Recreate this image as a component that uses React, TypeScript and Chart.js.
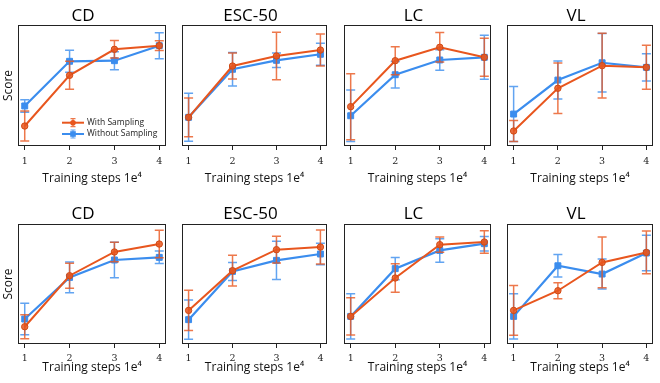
import React, { useEffect, useRef } from "react";
import { Chart, registerables } from "chart.js";

Chart.register(...registerables);

// ---------- data ----------
const steps = [1, 2, 3, 4];
const seriesLabels = ["With Sampling", "Without Sampling"];
const panelTitles = ["CD", "ESC-50", "LC", "VL", "CD", "ESC-50", "LC", "VL"];
const yLabel = "Score";
const xLabel = "Training steps 1e\u2074";

// top row
const cdTopWith = [16.5, 58.4, 79.9, 82.9];
const cdTopWithErr = [12.4, 11.6, 7.2, 4];
const cdTopWithout = [33.1, 70.0, 70.5, 82.9];
const cdTopWithoutErr = [5.2, 9.1, 7.4, 10.7];

const escTopWith = [23.7, 66.1, 74.4, 79.3];
const escTopWithErr = [16.0, 10.7, 19.6, 13.2];
const escTopWithout = [23.7, 63.4, 70.8, 75.8];
const escTopWithoutErr = [19.8, 13.8, 6.0, 9.1];

const lcTopWith = [32.5, 70.5, 81.6, 73.3];
const lcTopWithErr = [27.3, 11.6, 12.1, 15.7];
const lcTopWithout = [25.0, 58.9, 71.1, 73.3];
const lcTopWithoutErr = [21.2, 11.0, 8.5, 18.2];

const vlTopWith = [12.4, 47.7, 66.4, 65.0];
const vlTopWithErr = [8.7, 20.9, 26.7, 18.2];
const vlTopWithout = [26.4, 54.5, 68.8, 65.0];
const vlTopWithoutErr = [22.7, 15.7, 24.2, 11.3];

// bottom row
const cdBotWith = [14.4, 56.9, 76.7, 83.3];
const cdBotWithErr = [10.0, 10.4, 8.1, 11.4];
const cdBotWithout = [20.8, 55.5, 70.0, 72.2];
const cdBotWithoutErr = [13.1, 12.8, 14.8, 5.2];

const escBotWith = [28.0, 61.1, 78.6, 80.8];
const escBotWithErr = [16.8, 12.8, 11.1, 14.2];
const escBotWithout = [20.3, 60.5, 69.7, 75.0];
const escBotWithoutErr = [16.4, 7.5, 16.0, 9.0];

const lcBotWith = [23.0, 55.0, 82.8, 85.0];
const lcBotWithErr = [15.6, 11.9, 6.4, 9.4];
const lcBotWithout = [23.0, 62.8, 78.0, 83.6];
const lcBotWithoutErr = [18.8, 9.2, 9.8, 6.0];

const vlBotWith = [28.0, 44.4, 68.0, 76.3];
const vlBotWithErr = [20.7, 6.7, 21.1, 17.8];
const vlBotWithout = [23.0, 65.2, 58.3, 75.8];
const vlBotWithoutErr = [18.9, 9.4, 12.5, 14.8];

const withValues = [cdTopWith, escTopWith, lcTopWith, vlTopWith, cdBotWith, escBotWith, lcBotWith, vlBotWith];
const withErrors = [cdTopWithErr, escTopWithErr, lcTopWithErr, vlTopWithErr, cdBotWithErr, escBotWithErr, lcBotWithErr, vlBotWithErr];
const withoutValues = [cdTopWithout, escTopWithout, lcTopWithout, vlTopWithout, cdBotWithout, escBotWithout, lcBotWithout, vlBotWithout];
const withoutErrors = [cdTopWithoutErr, escTopWithoutErr, lcTopWithoutErr, vlTopWithoutErr, cdBotWithoutErr, escBotWithoutErr, lcBotWithoutErr, vlBotWithoutErr];

// ---------- style / layout ----------
const ORANGE = "#E8561E";
const ORANGE_ERR = "rgba(232,86,30,0.8)";
const BLUE = "#3B8DEE";
const BLUE_ERR = "rgba(59,141,238,0.8)";
const SANS = "'Open Sans', 'DejaVu Sans', sans-serif";
const SERIF = "'DejaVu Serif', serif";

const cols = [
  { boxL: 18, boxR: 166 },
  { boxL: 182, boxR: 327 },
  { boxL: 344, boxR: 491 },
  { boxL: 507, boxR: 653 },
];
const rows = [
  { top: 0, h: 190, boxTop: 25, boxBottom: 146, titlePadTop: 7.5, tickPad: 6, xTitlePadBottom: 4.3 },
  { top: 190, h: 193, boxTop: 224, boxBottom: 344, titlePadTop: 16, tickPad: 4.5, xTitlePadBottom: 8 },
];
const TITLE_SIZE = 17;
const RIGHT_PAD = 6;

// ---------- plugins ----------
const errorBarPlugin = {
  id: "errorBars",
  beforeDatasetDraw(chart: any, args: any) {
    const ds = chart.data.datasets[args.index];
    const errs: number[] | undefined = ds.errors;
    if (!errs) return;
    const { ctx } = chart;
    const x = chart.scales.x;
    const y = chart.scales.y;
    ctx.save();
    ctx.strokeStyle = ds.errorColor;
    ctx.lineWidth = 1.5;
    ds.data.forEach((p: any, i: number) => {
      const px = x.getPixelForValue(p.x);
      const t = y.getPixelForValue(p.y + errs[i]);
      const b = y.getPixelForValue(p.y - errs[i]);
      ctx.beginPath();
      ctx.moveTo(px, t);
      ctx.lineTo(px, b);
      ctx.moveTo(px - 4.5, t);
      ctx.lineTo(px + 4.5, t);
      ctx.moveTo(px - 4.5, b);
      ctx.lineTo(px + 4.5, b);
      ctx.stroke();
    });
    ctx.restore();
  },
};

const boxPlugin = {
  id: "boxFrame",
  afterDraw(chart: any) {
    const { ctx, chartArea: a } = chart;
    ctx.save();
    ctx.strokeStyle = "#222";
    ctx.lineWidth = 1;
    const l = Math.round(a.left) + 0.5;
    const t = Math.round(a.top) + 0.5;
    const r = Math.round(a.right) - 0.5;
    const b = Math.round(a.bottom) - 0.5;
    ctx.strokeRect(l, t, r - l, b - t);
    ctx.restore();
  },
};

const innerLegendPlugin = {
  id: "innerLegend",
  afterDraw(chart: any, _args: any, opts: any) {
    if (!opts || !opts.display) return;
    const { ctx, chartArea: a } = chart;
    const dsets = chart.data.datasets;
    ctx.save();
    ctx.font = `8.5px ${SANS}`;
    ctx.textBaseline = "middle";
    ctx.textAlign = "left";
    dsets.forEach((ds: any, i: number) => {
      const cy = a.bottom - 23.3 + i * 11.3;
      const x0 = a.right - 104;
      const x1 = a.right - 82;
      const cx = (x0 + x1) / 2;
      ctx.strokeStyle = ds.borderColor;
      ctx.lineWidth = 2;
      ctx.beginPath();
      ctx.moveTo(x0, cy);
      ctx.lineTo(x1, cy);
      ctx.stroke();
      ctx.strokeStyle = ds.errorColor;
      ctx.lineWidth = 1.2;
      ctx.beginPath();
      ctx.moveTo(cx, cy - 4);
      ctx.lineTo(cx, cy + 4);
      ctx.moveTo(cx - 2.5, cy - 4);
      ctx.lineTo(cx + 2.5, cy - 4);
      ctx.moveTo(cx - 2.5, cy + 4);
      ctx.lineTo(cx + 2.5, cy + 4);
      ctx.stroke();
      ctx.fillStyle = ds.borderColor;
      if (ds.pointStyle === "rect") {
        ctx.fillRect(cx - 2.8, cy - 2.8, 5.6, 5.6);
      } else {
        ctx.beginPath();
        ctx.arc(cx, cy, 2.8, 0, Math.PI * 2);
        ctx.fill();
      }
      ctx.fillStyle = "#222";
      ctx.fillText(ds.label, a.right - 79, cy);
    });
    ctx.restore();
  },
};

function buildConfig(i: number) {
  const row = rows[Math.floor(i / 4)];
  const col = cols[i % 4];
  const colIdx = i % 4;
  const left = colIdx === 0 ? 0 : col.boxL - 8;
  const yW = col.boxL - left;
  const xH = row.h - (row.boxBottom - row.top);
  const titlePadBottom = row.boxTop - row.top - row.titlePadTop - TITLE_SIZE;
  const mk = (vals: number[]) => steps.map((s, k) => ({ x: s, y: vals[k] }));
  return {
    type: "line",
    data: {
      datasets: [
        {
          label: seriesLabels[0],
          data: mk(withValues[i]),
          errors: withErrors[i],
          errorColor: ORANGE_ERR,
          borderColor: ORANGE,
          backgroundColor: ORANGE,
          borderWidth: 2,
          pointStyle: "circle",
          pointRadius: 3.2,
          pointBorderWidth: 1,
          pointBorderColor: "#d14a14",
          pointBackgroundColor: "rgba(232,86,30,0.85)",
          tension: 0,
        },
        {
          label: seriesLabels[1],
          data: mk(withoutValues[i]),
          errors: withoutErrors[i],
          errorColor: BLUE_ERR,
          borderColor: BLUE,
          backgroundColor: BLUE,
          borderWidth: 2.2,
          pointStyle: "rect",
          pointRadius: 4.2,
          pointBorderWidth: 1,
          pointBorderColor: BLUE,
          pointBackgroundColor: BLUE,
          tension: 0,
        },
      ],
    },
    options: {
      responsive: false,
      maintainAspectRatio: false,
      animation: false,
      devicePixelRatio: 1,
      events: [],
      layout: { padding: { left: 0, right: RIGHT_PAD, top: 0, bottom: 0 } },
      plugins: {
        legend: { display: false },
        tooltip: { enabled: false },
        title: {
          display: true,
          text: panelTitles[i],
          color: "#000",
          font: { family: SANS, size: TITLE_SIZE, weight: "normal", lineHeight: 1 },
          padding: { top: row.titlePadTop, bottom: titlePadBottom },
        },
        innerLegend: { display: i === 0 },
      },
      scales: {
        x: {
          type: "linear",
          min: 0.85,
          max: 4.15,
          afterBuildTicks: (s: any) => {
            s.ticks = steps.map((v) => ({ value: v }));
          },
          afterFit: (s: any) => {
            s.height = xH;
          },
          border: { display: false },
          grid: {
            display: true,
            drawOnChartArea: false,
            drawTicks: true,
            tickLength: 4,
            tickColor: "#222",
            tickWidth: 1,
          },
          ticks: {
            color: "#222",
            padding: row.tickPad,
            font: { family: SERIF, size: 9.5, lineHeight: 1.2 },
            maxRotation: 0,
          },
          title: {
            display: true,
            text: xLabel,
            color: "#111",
            font: { family: SANS, size: 12, lineHeight: 1.2 },
            padding: { top: 0, bottom: row.xTitlePadBottom },
          },
        },
        y: {
          type: "linear",
          min: 0,
          max: 100,
          afterFit: (s: any) => {
            s.width = yW;
          },
          border: { display: false },
          grid: { display: false, drawTicks: false },
          ticks: { display: false },
          title: {
            display: colIdx === 0,
            text: yLabel,
            color: "#111",
            font: { family: SANS, size: 12, lineHeight: 1.2 },
            padding: { top: 1.5, bottom: 0 },
          },
        },
      },
    },
    plugins: [errorBarPlugin, boxPlugin, innerLegendPlugin],
    _geom: { left, top: row.top, width: col.boxR + RIGHT_PAD - left, height: row.h },
  } as any;
}

const configs = panelTitles.map((_, i) => buildConfig(i));

export default function App() {
  const refs = useRef<(HTMLCanvasElement | null)[]>([]);
  useEffect(() => {
    const charts: Chart[] = [];
    configs.forEach((cfg, i) => {
      const c = refs.current[i];
      if (!c) return;
      const { _geom, ...rest } = cfg;
      charts.push(new Chart(c, rest));
    });
    return () => charts.forEach((ch) => ch.destroy());
  }, []);
  return (
    <div style={{ position: "absolute", left: 0, top: 0, width: 660, height: 383, background: "#fff" }}>
      {configs.map((cfg, i) => (
        <canvas
          key={i}
          ref={(el) => {
            refs.current[i] = el;
          }}
          width={cfg._geom.width}
          height={cfg._geom.height}
          style={{
            position: "absolute",
            left: cfg._geom.left,
            top: cfg._geom.top,
            width: cfg._geom.width,
            height: cfg._geom.height,
          }}
        />
      ))}
    </div>
  );
}
